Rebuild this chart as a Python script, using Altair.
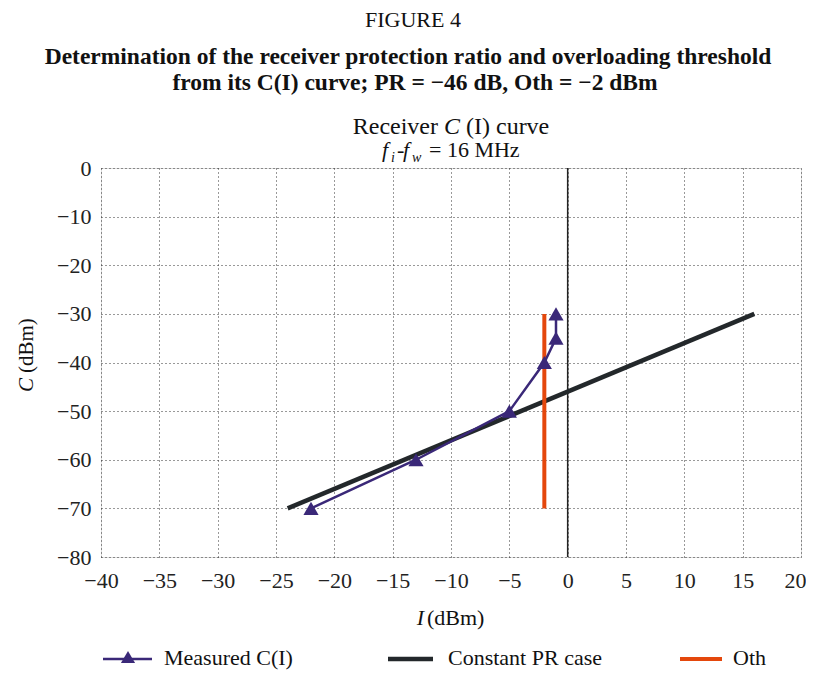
import altair as alt
import pandas as pd

# ---- data ----
measured_I = [-22, -13, -5, -2, -1, -1]
measured_C = [-70, -60, -50, -40, -35, -30]
pr_I = [-24, 16]
pr_C = [-70, -30]
oth_I = [-2, -2]
oth_C = [-70, -30]
zero_I = [0]
x_ticks = [-40, -35, -30, -25, -20, -15, -10, -5, 0, 5, 10, 15, 20]
y_ticks = [0, -10, -20, -30, -40, -50, -60, -70, -80]

FONT = "Liberation Serif"
PURPLE = "#3a2878"
BLACK = "#23282b"
ORANGE = "#e4470c"

W, H = 700, 389

meas_df = pd.DataFrame({"I": measured_I, "C": measured_C})
pr_df = pd.DataFrame({"I": pr_I, "C": pr_C})
oth_df = pd.DataFrame({"I": oth_I, "C": oth_C})
zero_df = pd.DataFrame({"I": zero_I})

xs = alt.Scale(domain=[-40, 20], nice=False, zero=False)
ys = alt.Scale(domain=[-80, 0], nice=False, zero=False)

minus = "replace(datum.label, '-', '\u2212')"
x_axis = alt.Axis(values=x_ticks, title=None, grid=True, gridColor="#333",
                  gridDash=[1, 3], gridWidth=1, domain=False, ticks=False,
                  labelFont=FONT, labelFontSize=22, labelColor="#222",
                  labelPadding=13, labelFlush=False, labelOverlap=False,
                  labelOffset={"condition": {"test": "datum.value == 20", "value": -6},
                               "value": 0},
                  labelExpr=minus)
y_axis = alt.Axis(values=y_ticks, title=None, grid=True, gridColor="#333",
                  gridDash=[1, 3], gridWidth=1, domain=False, ticks=False,
                  labelFont=FONT, labelFontSize=22, labelColor="#222",
                  labelPadding=10, labelFlush=False, labelOverlap=False,
                  labelExpr=minus)

base = alt.Chart(meas_df).mark_point(opacity=0).encode(
    x=alt.X("I:Q", scale=xs, axis=x_axis),
    y=alt.Y("C:Q", scale=ys, axis=y_axis),
)

zero = alt.Chart(zero_df).mark_rule(color="#222", strokeWidth=1.5).encode(
    x=alt.X("I:Q", scale=xs)
)

pr = alt.Chart(pr_df).mark_line(color=BLACK, strokeWidth=4.5).encode(
    x=alt.X("I:Q", scale=xs), y=alt.Y("C:Q", scale=ys)
)
oth = alt.Chart(oth_df).mark_line(color=ORANGE, strokeWidth=4).encode(
    x=alt.X("I:Q", scale=xs), y=alt.Y("C:Q", scale=ys)
)
meas_line = alt.Chart(meas_df).mark_line(color=PURPLE, strokeWidth=2.5).encode(
    x=alt.X("I:Q", scale=xs), y=alt.Y("C:Q", scale=ys), order=alt.Order("C:Q")
)
meas_pts = alt.Chart(meas_df).mark_point(
    shape="triangle-up", filled=True, color=PURPLE, size=230, opacity=1
).encode(x=alt.X("I:Q", scale=xs), y=alt.Y("C:Q", scale=ys))


def txt(s, x, y, size=22, align="center", weight="normal", style="normal",
        baseline="alphabetic", angle=0):
    kw = dict(text=s, font=FONT, fontSize=size, align=align, fontWeight=weight,
              fontStyle=style, baseline=baseline, color="#111")
    if angle:
        kw["angle"] = angle
    return alt.Chart(alt.Data(values=[{}])).mark_text(**kw).encode(
        x=alt.value(x), y=alt.value(y)
    )


LEG_Y = 497  # baseline of legend text, relative to plot top
SYM_Y = 491

texts = [
    txt("FIGURE 4", 312, -141, size=22),
    txt("Determination of the receiver protection ratio and overloading threshold",
        307, -104, size=23.5, weight="bold"),
    txt("from its C(I) curve; PR = \u221246 dB, Oth = \u22122 dBm",
        314, -78, size=23.5, weight="bold"),
    # chart title
    txt("Receiver", 337, -34, size=24, align="right"),
    txt("C", 343, -34, size=24, align="left", style="italic"),
    txt("(I) curve", 365, -34, size=24, align="left"),
    txt("f", 281, -11, size=22, align="left", style="italic"),
    txt("i", 290, -6, size=14, align="left", style="italic"),
    txt("-", 296, -11, size=22, align="left"),
    txt("f", 302, -11, size=22, align="left", style="italic"),
    txt("w", 311, -6, size=14, align="left", style="italic"),
    txt("= 16 MHz", 328, -11, size=22, align="left"),
    # y-axis title
    txt("C", -74, 224, size=21, align="left", style="italic", baseline="middle", angle=270),
    txt("(dBm)", -74, 205, size=21, align="left", baseline="middle", angle=270),
    # x-axis title
    txt("I", 323, 457, size=22, align="right", style="italic"),
    txt("(dBm)", 326, 457, size=22, align="left"),
    # legend texts
    txt("Measured C(I)", 63, LEG_Y, size=22, align="left"),
    txt("Constant PR case", 347, LEG_Y, size=22, align="left"),
    txt("Oth", 632, LEG_Y, size=22, align="left"),
]


def leg_line(x1, x2, color, w):
    return alt.Chart(alt.Data(values=[{}])).mark_rule(color=color, strokeWidth=w).encode(
        x=alt.value(x1), x2=alt.value(x2), y=alt.value(SYM_Y)
    )


legend = [
    leg_line(2, 51, PURPLE, 2.5),
    alt.Chart(alt.Data(values=[{}])).mark_point(
        shape="triangle-up", filled=True, color=PURPLE, size=200, opacity=1
    ).encode(x=alt.value(27), y=alt.value(SYM_Y - 2)),
    leg_line(287, 332, BLACK, 4.5),
    leg_line(579, 621, ORANGE, 4),
]

chart = alt.layer(base, zero, pr, oth, meas_line, meas_pts, *texts, *legend).properties(
    width=W, height=H,
    autosize=alt.AutoSizeParams(type="none"),
    padding={"left": 93, "top": 160, "right": 5, "bottom": 115},
).configure_view(stroke="#7d8894", strokeWidth=2.5).configure(background="white")

chart.save("out.html", embed_options={"renderer": "svg", "actions": False})
